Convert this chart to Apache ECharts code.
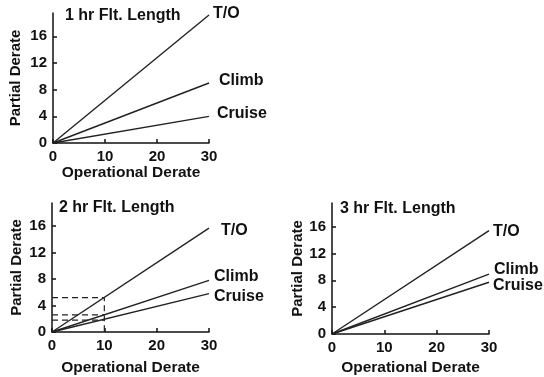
<!DOCTYPE html>
<html><head><meta charset="utf-8">
<script src="https://cdn.jsdelivr.net/npm/echarts@6/dist/echarts.min.js"></script>
<style>html,body{margin:0;padding:0;background:#fff}#c{width:544px;height:377px}</style>
</head><body><div id="c"></div>
<script>
var xEnds = [0, 30];
var seriesNames = ['T/O', 'Climb', 'Cruise'];
var titles = ['1 hr Flt. Length', '2 hr Flt. Length', '3 hr Flt. Length'];
var hr1TO = [0, 19.2], hr1Climb = [0, 9.0], hr1Cruise = [0, 4.0];
var hr2TO = [0, 15.7], hr2Climb = [0, 7.8], hr2Cruise = [0, 5.8];
var hr3TO = [0, 15.4], hr3Climb = [0, 8.9], hr3Cruise = [0, 7.7];
var guideX = [0, 10, 10];
var guideTO = [5.2, 5.2, 0];
var guideClimbX = [0, 10], guideClimb = [2.6, 2.6];
var guideCruiseX = [0, 10], guideCruise = [1.8, 1.8];
var xTicks = [0, 10, 20, 30];
var yTicks = [0, 4, 8, 12, 16];

var FONT = 'Liberation Sans, Arial, Helvetica, sans-serif';
var INK = '#111';
var panels = [
  {vals: [hr1TO, hr1Climb, hr1Cruise], grid: {left: 53, top: 13, width: 156, height: 130},
   offs: [[2, -1], [8, -2], [6, -3]], yGap: 30, xGap: 22, title: [65, 8]},
  {vals: [hr2TO, hr2Climb, hr2Cruise], grid: {left: 52, top: 203, width: 157, height: 132},
   offs: [[10, 2], [3, -4], [3, 3]], yGap: 28, xGap: 28, title: [59, 200]},
  {vals: [hr3TO, hr3Climb, hr3Cruise], grid: {left: 332, top: 203, width: 157, height: 133},
   offs: [[2, 1], [3, -5], [2, 3]], yGap: 27, xGap: 26, title: [340, 201]}
];

var option = {animation: false, backgroundColor: '#fff', grid: [], xAxis: [], yAxis: [], series: [], title: []};
panels.forEach(function (p, i) {
  option.grid.push(Object.assign({containLabel: false}, p.grid));
  option.title.push({text: titles[i], left: p.title[0], top: p.title[1], padding: 0,
    textStyle: {fontFamily: FONT, fontWeight: 'bold', fontSize: 16, color: INK}});
  option.xAxis.push({type: 'value', gridIndex: i, min: 0, max: 30, interval: 10,
    name: 'Operational Derate', nameLocation: 'middle', nameGap: p.xGap,
    nameTextStyle: {fontFamily: FONT, fontWeight: 'bold', fontSize: 15.5, color: INK},
    axisLine: {show: true, lineStyle: {color: INK, width: 1.5}},
    axisTick: {show: true, inside: true, length: 4, lineStyle: {color: INK, width: 1.5}},
    axisLabel: {fontFamily: FONT, fontWeight: 'bold', fontSize: 15, color: INK, margin: 6},
    splitLine: {show: false}});
  option.yAxis.push({type: 'value', gridIndex: i, min: 0, max: 19.5,
    name: 'Partial Derate', nameLocation: 'middle', nameGap: p.yGap, nameRotate: 90,
    nameTextStyle: {fontFamily: FONT, fontWeight: 'bold', fontSize: 15, color: INK},
    axisLine: {show: true, lineStyle: {color: INK, width: 1.5}},
    axisTick: {show: true, inside: true, length: 4, customValues: yTicks, lineStyle: {color: INK, width: 1.5}},
    axisLabel: {fontFamily: FONT, fontWeight: 'bold', fontSize: 15, color: INK, margin: 6, customValues: yTicks},
    splitLine: {show: false}});
  p.vals.forEach(function (v, k) {
    option.series.push({type: 'line', name: seriesNames[k], xAxisIndex: i, yAxisIndex: i,
      symbol: 'none', clip: false,
      lineStyle: {color: '#222', width: 1.4},
      data: xEnds.map(function (x, j) { return [x, v[j]]; }),
      endLabel: {show: true, distance: 2, offset: p.offs[k],
        fontFamily: FONT, fontWeight: 'bold', fontSize: 16, color: INK,
        formatter: seriesNames[k]}
    });
  });
});
function guide(xs, ys) {
  option.series.push({type: 'line', xAxisIndex: 1, yAxisIndex: 1, symbol: 'none',
    lineStyle: {color: '#222', width: 1.2, type: [6, 4]},
    data: xs.map(function (x, j) { return [x, ys[j]]; })});
}
guide(guideX, guideTO);
guide(guideClimbX, guideClimb);
guide(guideCruiseX, guideCruise);

var chart = echarts.init(document.getElementById('c'), null, {renderer: 'canvas'});
chart.setOption(option);
</script></body></html>
